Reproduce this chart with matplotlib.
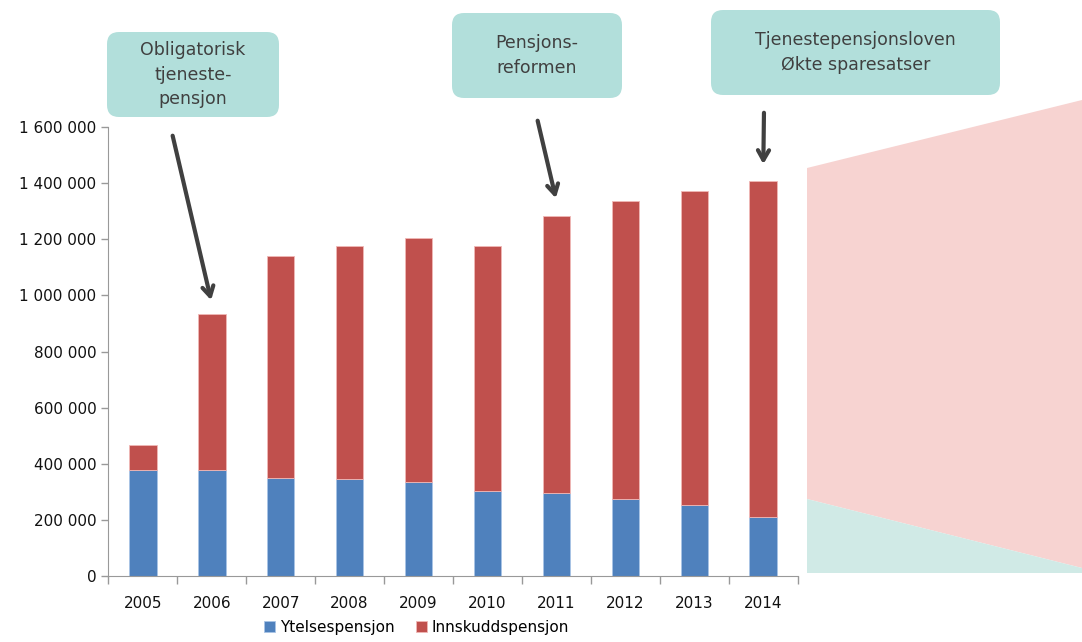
import numpy as np
import matplotlib.pyplot as plt
from matplotlib.patches import FancyBboxPatch, Polygon

# data
years = ['2005', '2006', '2007', '2008', '2009', '2010', '2011', '2012', '2013', '2014']
ytelse = [378000, 378000, 349000, 345000, 336000, 304000, 295000, 276000, 254000, 211000]
totalt = [468000, 933000, 1139000, 1177000, 1203000, 1177000, 1281000, 1337000, 1372000, 1406000]
innskudd = [t - y for t, y in zip(totalt, ytelse)]
yticks = [0, 200000, 400000, 600000, 800000, 1000000, 1200000, 1400000, 1600000]

blue = '#4F81BD'
red = '#C0504D'
grey = '#404040'

fig = plt.figure(figsize=(10.82, 6.42), dpi=100)
ax = fig.add_axes([0.1001, 0.1023, 0.6372, 0.7003])

x = np.arange(len(years))
ax.bar(x, ytelse, width=0.4, color=blue, edgecolor='#A9C4E6', linewidth=0.6, label='Ytelsespensjon')
ax.bar(x, innskudd, width=0.4, bottom=ytelse, color=red, edgecolor='#F0B8B6', linewidth=0.6, label='Innskuddspensjon')

ax.set_xlim(-0.5, len(years) - 0.5)
ax.set_ylim(0, 1600000)
ax.set_yticks(yticks)
ax.set_yticklabels([f'{v:,}'.replace(',', ' ') for v in yticks], fontsize=11, color='#111111')
ax.set_xticks(x)
ax.set_xticklabels(years, fontsize=11, color='#111111')
ax.tick_params(axis='x', length=0, pad=14)
ax.tick_params(axis='y', length=5, color='#999999', width=1)
ax.set_xticks(np.arange(-0.5, len(years)), minor=True)
ax.tick_params(axis='x', which='minor', length=6, color='#999999', width=1)
for s in ['top', 'right']:
    ax.spines[s].set_visible(False)
for s in ['left', 'bottom']:
    ax.spines[s].set_color('#999999')

fig.legend(loc='lower center', bbox_to_anchor=(0.385, -0.01), ncol=2, frameon=False,
           fontsize=11, handlelength=0.75, handleheight=0.75, handletextpad=0.3, columnspacing=1.4)

# decorative shapes on the right
fig.patches.append(Polygon([(807, 642 - 168), (1082, 642 - 100), (1082, 642 - 568), (807, 642 - 499)],
                           closed=True, transform=None, facecolor='#F7D3D1', edgecolor='none'))
fig.patches.append(Polygon([(807, 642 - 499), (1082, 642 - 568), (1082, 642 - 573), (807, 642 - 573)],
                           closed=True, transform=None, facecolor='#D0EAE6', edgecolor='none'))

# annotation boxes
boxes = [
    (107, 525, 172, 85, 'Obligatorisk\ntjeneste-\npensjon'),
    (452, 544, 170, 85, 'Pensjons-\nreformen'),
    (711, 547, 289, 85, 'Tjenestepensjonsloven\nØkte sparesatser'),
]
for bx, by, bw, bh, txt in boxes:
    fig.patches.append(FancyBboxPatch((bx, by), bw, bh, boxstyle='round,pad=0,rounding_size=12',
                                      transform=None, facecolor='#B2DFDB', edgecolor='none'))
    fig.text((bx + bw / 2) / 1082, (by + bh / 2) / 642, txt, ha='center', va='center',
             fontsize=12.5, color=grey, linespacing=1.45)

# arrows from boxes to bars
arrows = [(1, 40000, 172, 509), (6, 55000, 537, 524), (9, 51000, 764, 532)]
for i, off, tx, ty in arrows:
    ax.annotate('', xy=(i, totalt[i] + off), xycoords='data', xytext=(tx, ty), textcoords='figure pixels',
                arrowprops=dict(arrowstyle='->,head_length=0.7,head_width=0.4', color=grey, lw=3),
                annotation_clip=False)

fig.savefig('out.png', dpi=100)
